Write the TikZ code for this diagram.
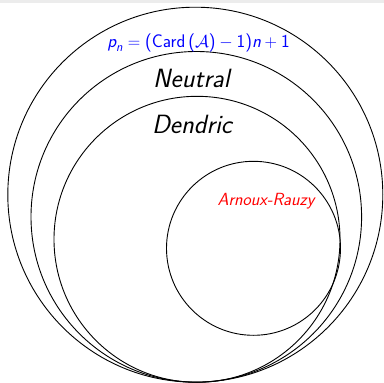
\documentclass[tikz,border=0pt]{standalone}
\usepackage{fontspec}
\usepackage{amsmath}
\begin{document}
\begin{tikzpicture}[x=1pt,y=-1pt,
  ring/.style={circle,draw=black,line width=0.9pt,inner sep=0pt,outer sep=0pt},
  lbl/.style={inner sep=0pt,anchor=base,font=\sffamily}]
\useasboundingbox (0,0) rectangle (384,383);
\fill[gray!15] (0,0) rectangle (384,2.5);
\node[ring,minimum size=375pt] (c1) at (195.3,194.7) {};
\node[ring,minimum size=330.6pt] (c2) at (196.3,216.8) {};
\node[ring,minimum size=286pt] (c3) at (197,239.3) {};
\node[ring,minimum size=174pt] (c4) at (253.5,248.3) {};
\node[lbl,text=blue,font=\sffamily\fontsize{18.3}{20}\selectfont] (pn) at (198.5,47)
  {$\textit{p}_{\textit{n}} = \text{(Card\,(}\mathcal{A}\text{)} - \text{1)}\textit{n} + \text{1}$};
\node[lbl,font=\sffamily\itshape\fontsize{26.4}{28}\selectfont] (neu) at (191.5,87) {Neutral};
\node[lbl,font=\sffamily\itshape\fontsize{26.4}{28}\selectfont] (den) at (192,133) {Dendric};
\node[lbl,text=red,font=\sffamily\itshape\fontsize{17.6}{19}\selectfont] (ar) at (266,205) {Arnoux-Rauzy};
\end{tikzpicture}
\end{document}
